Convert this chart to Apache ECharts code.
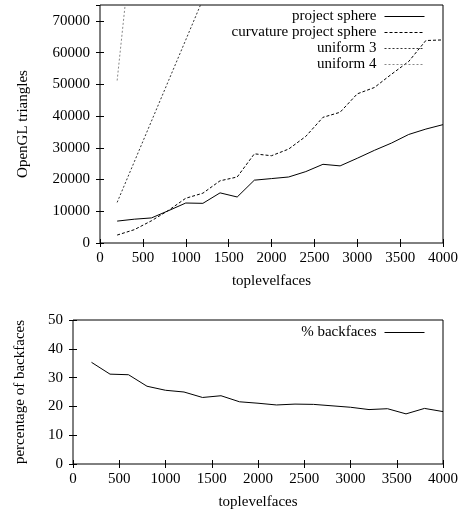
<!DOCTYPE html>
<html>
<head>
<meta charset="utf-8">
<script src="https://cdn.jsdelivr.net/npm/echarts@6/dist/echarts.min.js"></script>
<style>
html,body{margin:0;padding:0;background:#fff;}
#chart{width:461px;height:513px;}
</style>
</head>
<body>
<div id="chart"></div>
<script>
const faces = [200,400,600,800,1000,1200,1400,1600,1800,2000,2200,2400,2600,2800,3000,3200,3400,3600,3800,4000];
const projectSphere = [6900,7500,7900,10200,12600,12500,15800,14500,19800,20300,20800,22500,24800,24300,26700,29200,31500,34200,35900,37300];
const curvatureProjectSphere = [2500,4200,7000,10300,14100,15700,19600,20800,28100,27500,29600,33600,39600,41200,47000,49000,53200,57200,63800,64000];
const uniform3 = [12800,25600,38400,51200,64000,76800,89600,102400,115200,128000,140800,153600,166400,179200,192000,204800,217600,230400,243200,256000];
const uniform4 = [51200,102400,153600,204800,256000,307200,358400,409600,460800,512000,563200,614400,665600,716800,768000,819200,870400,921600,972800,1024000];
const backfaces = [35.3,31.2,31.0,27.0,25.6,25.0,23.1,23.7,21.6,21.1,20.5,20.8,20.7,20.2,19.7,18.9,19.2,17.4,19.3,18.2];

const FONT = '"Liberation Serif", "DejaVu Serif", serif';
const txt = {fontFamily: FONT, fontSize: 15, color: '#000'};
const plain = v => String(v);

function pairs(ys){ return faces.map((f,i)=>[f, ys[i]]); }

function xAx(gi, show){
  return {
    type:'value', gridIndex: gi, min:0, max:4000, interval:500,
    position: show ? 'bottom' : 'top',
    axisLine:{show:false},
    axisTick:{show:true, inside:true, length:4, lineStyle:{color:'#000'}},
    axisLabel:{show:show, margin:8, ...txt, formatter: plain},
    splitLine:{show:false},
    name: show ? 'toplevelfaces' : '', nameLocation:'middle', nameGap:31,
    nameTextStyle: txt
  };
}
function yAx(gi, show, max, interval, name, gap){
  return {
    type:'value', gridIndex: gi, min:0, max:max, interval:interval,
    position: show ? 'left' : 'right',
    axisLine:{show:false},
    axisTick:{show:true, inside:true, length:4, lineStyle:{color:'#000'}},
    axisLabel:{show:show, margin:10, ...txt, formatter: plain, showMaxLabel: gi===0 ? false : true},
    splitLine:{show:false},
    name: show ? name : '', nameLocation:'middle', nameGap:gap, nameRotate:90,
    nameTextStyle: txt
  };
}

const legendCommon = {
  orient:'vertical', right:36, padding:0, itemGap:1,
  itemWidth:40, itemHeight:14, align:'right',
  itemStyle:{opacity:0},
  lineStyle:{width:1},
  textStyle:{...txt, padding:[0,3,0,0]}
};

const chart = echarts.init(document.getElementById('chart'), null, {renderer:'canvas'});
chart.setOption({
  animation:false,
  backgroundColor:'#fff',
  grid:[
    {left:100, right:18, top:5, height:238, show:true, borderColor:'#000', borderWidth:1, backgroundColor:'transparent'},
    {left:73, right:18, top:320, height:144, show:true, borderColor:'#000', borderWidth:1, backgroundColor:'transparent'}
  ],
  xAxis:[xAx(0,true), xAx(0,false), xAx(1,true), xAx(1,false)],
  yAxis:[
    yAx(0,true,75000,10000,'OpenGL triangles',69),
    yAx(0,false,75000,10000,'',0),
    yAx(1,true,50,10,'percentage of backfaces',45),
    yAx(1,false,50,10,'',0)
  ],
  legend:[
    {...legendCommon, top:9, data:['project sphere','curvature project sphere','uniform 3','uniform 4']},
    {...legendCommon, top:325, data:['% backfaces']}
  ],
  series:[
    {name:'project sphere', type:'line', xAxisIndex:0, yAxisIndex:0, data:pairs(projectSphere), symbol:'none', clip:true,
     lineStyle:{color:'#000', width:1, type:'solid'}, itemStyle:{color:'#000'}},
    {name:'curvature project sphere', type:'line', xAxisIndex:0, yAxisIndex:0, data:pairs(curvatureProjectSphere), symbol:'none', clip:true,
     lineStyle:{color:'#000', width:1, type:[3,2]}, itemStyle:{color:'#000'}},
    {name:'uniform 3', type:'line', xAxisIndex:0, yAxisIndex:0, data:pairs(uniform3), symbol:'none', clip:true,
     lineStyle:{color:'#333', width:1, type:[2,2]}, itemStyle:{color:'#333'}},
    {name:'uniform 4', type:'line', xAxisIndex:0, yAxisIndex:0, data:pairs(uniform4), symbol:'none', clip:true,
     lineStyle:{color:'#888', width:1, type:[2,2]}, itemStyle:{color:'#888'}},
    {name:'% backfaces', type:'line', xAxisIndex:2, yAxisIndex:2, data:pairs(backfaces), symbol:'none', clip:true,
     lineStyle:{color:'#000', width:1, type:'solid'}, itemStyle:{color:'#000'}}
  ]
});
</script>
</body>
</html>
